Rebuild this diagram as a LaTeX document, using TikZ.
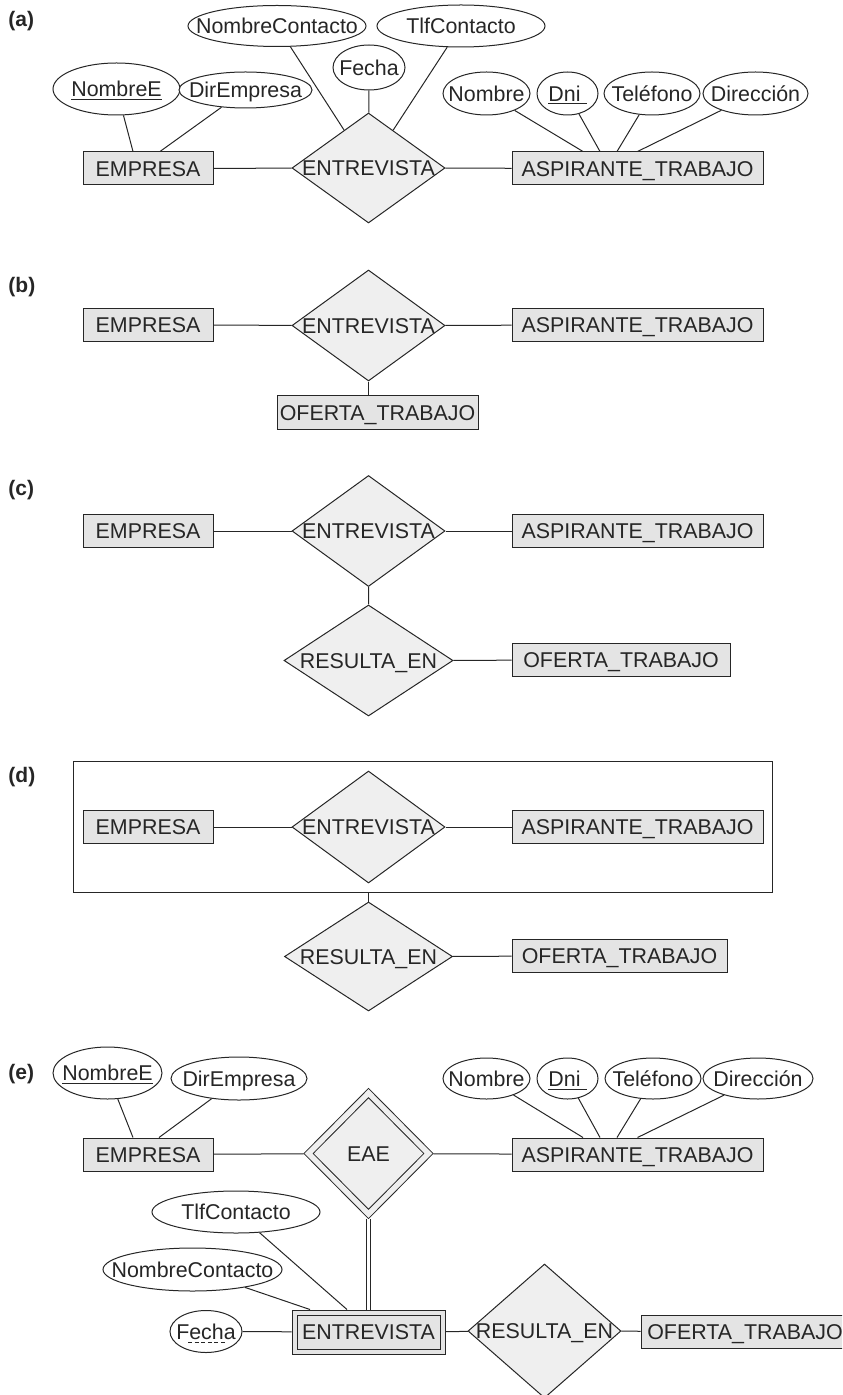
\documentclass[tikz,border=0pt]{standalone}
\usepackage[dvipsnames,svgnames]{xcolor}
\usepackage{tikz}
\usetikzlibrary{shapes.geometric, fit, calc}
\usepackage{fontspec}
\setmainfont{Liberation Sans}
\definecolor{entgray}{HTML}{E4E4E4}
\definecolor{relgray}{HTML}{EFEFEF}

\begin{document}
\begin{tikzpicture}[
  x=0.5pt, y=-0.5pt,
  color=black!85, line width=0.5pt,
  font=\fontsize{10.7}{12}\selectfont,
  every node/.style={text height=7.6pt, text depth=0pt, inner sep=0pt},
  partlabel/.style={anchor=west, font=\bfseries\fontsize{10.5}{12}\selectfont},
  entity/.style={rectangle, draw, fill=entgray, minimum width=#1, minimum height=16.5pt},
  weakentity/.style={rectangle, draw, fill=entgray, double=entgray, double distance=2pt, outer sep=1.5pt, minimum width=74pt, minimum height=19.5pt},
  relation/.style 2 args={diamond, draw, fill=relgray, minimum width=#1, minimum height=#2},
  weakrelation/.style={diamond, draw, fill=relgray, double=relgray, double distance=2.7pt, outer sep=1.85pt, minimum width=61.5pt, minimum height=62pt},
  attrib/.style 2 args={ellipse, draw, fill=white, minimum width=#1, minimum height=#2},
  aggbox/.style={rectangle, draw, inner sep=4.5pt},
  partialkey/.style={dash pattern=on 2pt off 1.3pt, line width=0.5pt}
]
\useasboundingbox (0,0) rectangle (842,1395);
\clip (0,0) rectangle (842,1395);

\node[partlabel] (lblA) at (8,19) {(a)};
\node[attrib={63.5pt}{26pt}] (nomeA) at (116.5,89) {\makebox[0pt]{\underline{NombreE}}};
\node[attrib={66.5pt}{18pt}] (direA) at (245.5,90) {\makebox[0pt]{DirEmpresa}};
\node[entity=65pt] (empA) at (148,168.5) {EMPRESA};
\node[relation={76.5pt}{55pt}] (entA) at (368.5,168) {\makebox[0pt]{ENTREVISTA}};
\node[entity=125.5pt] (aspA) at (637.5,168.5) {ASPIRANTE\_TRABAJO};
\node[attrib={89pt}{20.5pt}] (ncA) at (277,26) {\makebox[0pt]{NombreContacto}};
\node[attrib={84pt}{21pt}] (tlfA) at (461,26) {\makebox[0pt]{TlfContacto}};
\node[attrib={36pt}{22.5pt}] (fechaA) at (369,67.5) {\makebox[0pt]{Fecha}};
\node[attrib={43.5pt}{21.5pt}] (nomA) at (486.5,93.5) {\makebox[0pt]{Nombre}};
\node[attrib={30.5pt}{21.5pt}] (dniA) at (567.5,93.5) {\makebox[0pt]{\underline{Dni\ }}};
\node[attrib={48pt}{21.5pt}] (telA) at (652,93.5) {\makebox[0pt]{Teléfono}};
\node[attrib={52.5pt}{21.5pt}] (dirA) at (755.5,93.5) {\makebox[0pt]{Dirección}};
\draw (empA) -- (entA) -- (aspA);
\draw (nomeA) -- ($(empA.north)+(-15,0)$);
\draw (direA) -- ($(empA.north)+(12,0)$);
\draw (ncA) -- (entA);
\draw (tlfA) -- (entA);
\draw (fechaA) -- (entA);
\draw (nomA) -- ($(aspA.north)+(-54.5,0)$);
\draw (dniA) -- ($(aspA.north)+(-37.5,0)$);
\draw (telA) -- ($(aspA.north)+(-20.5,0)$);
\draw (dirA) -- (aspA.north);

\node[partlabel] (lblB) at (8,285) {(b)};
\node[entity=65pt] (empB) at (148,325) {EMPRESA};
\node[relation={76.5pt}{55.5pt}] (entB) at (368.5,325.5) {\makebox[0pt]{ENTREVISTA}};
\node[entity=125.5pt] (aspB) at (637.5,325) {ASPIRANTE\_TRABAJO};
\node[entity=100.5pt] (ofB) at (377.5,412.5) {OFERTA\_TRABAJO};
\draw (empB) -- (entB) -- (aspB);
\draw (entB) -- (entB |- ofB.north);

\node[partlabel] (lblC) at (8,488) {(c)};
\node[entity=65pt] (empC) at (148,531) {EMPRESA};
\node[relation={76.5pt}{55.5pt}] (entC) at (368.5,531) {\makebox[0pt]{ENTREVISTA}};
\node[entity=125.5pt] (aspC) at (637.5,531) {ASPIRANTE\_TRABAJO};
\node[relation={84.5pt}{55.5pt}] (resC) at (368.5,660.5) {\makebox[0pt]{RESULTA\_EN}};
\node[entity=109pt] (ofC) at (621,660) {OFERTA\_TRABAJO};
\draw (empC) -- (entC) -- (aspC);
\draw (entC) -- (resC) -- (ofC);

\node[partlabel] (lblD) at (8,775) {(d)};
\node[entity=65pt] (empD) at (148,827) {EMPRESA};
\node[relation={76.5pt}{56pt}] (entD) at (368.5,827) {\makebox[0pt]{ENTREVISTA}};
\node[entity=125.5pt] (aspD) at (637.5,827) {ASPIRANTE\_TRABAJO};
\node[aggbox, fit=(empD)(entD)(aspD)] (aggD) {};
\node[relation={84pt}{54.5pt}] (resD) at (368.5,956.5) {\makebox[0pt]{RESULTA\_EN}};
\node[entity=107.5pt] (ofD) at (619.5,956) {OFERTA\_TRABAJO};
\draw (empD) -- (entD) -- (aspD);
\draw (resD) -- (resD |- aggD.south);
\draw (resD) -- (ofD);

\node[partlabel] (lblE) at (8,1072) {(e)};
\node[attrib={54.5pt}{26pt}] (nomeE) at (107.5,1073) {\makebox[0pt]{\underline{NombreE}}};
\node[attrib={68pt}{21.5pt}] (direE) at (239,1078.5) {\makebox[0pt]{DirEmpresa}};
\node[entity=65pt] (empE) at (148,1154.5) {EMPRESA};
\node[weakrelation] (eaeE) at (368.5,1153.5) {\makebox[0pt]{EAE}};
\node[entity=125.5pt] (aspE) at (637.5,1154.5) {ASPIRANTE\_TRABAJO};
\node[attrib={43.5pt}{20.5pt}] (nomE) at (486.5,1078.5) {\makebox[0pt]{Nombre}};
\node[attrib={30.5pt}{20.5pt}] (dniE) at (567.5,1078.5) {\makebox[0pt]{\underline{Dni\ }}};
\node[attrib={48pt}{20.5pt}] (telE) at (653,1078.5) {\makebox[0pt]{Teléfono}};
\node[attrib={55pt}{20.5pt}] (dirE) at (758,1078.5) {\makebox[0pt]{Dirección}};
\node[attrib={84pt}{21pt}] (tlfE) at (236,1212) {\makebox[0pt]{TlfContacto}};
\node[attrib={89.5pt}{21.5pt}] (ncE) at (192.5,1269.5) {\makebox[0pt]{NombreContacto}};
\node[attrib={36pt}{21pt}] (fechaE) at (206,1331.5) {\makebox[0pt]{Fecha}};
\draw[partialkey] ($(fechaE)+(-18,11)$) -- ($(fechaE)+(20,11)$);
\node[weakentity] (wentE) at (368.5,1332) {ENTREVISTA};
\node[relation={76.5pt}{67pt}] (resE) at (544.5,1331) {\makebox[0pt]{RESULTA\_EN}};
\node[entity=104pt] (ofE) at (745,1331.5) {OFERTA\_TRABAJO};
\draw (nomeE) -- ($(empE.north)+(-15,0)$);
\draw (direE) -- ($(empE.north)+(11,0)$);
\draw (empE) -- (eaeE) -- (aspE);
\draw (nomE) -- ($(aspE.north)+(-54.5,0)$);
\draw (dniE) -- ($(aspE.north)+(-37.5,0)$);
\draw (telE) -- ($(aspE.north)+(-20.5,0)$);
\draw (dirE) -- (aspE.north);
\draw[double, double distance=1.5pt] (eaeE) -- (wentE);
\draw (tlfE) -- ($(wentE.north)+(-21.5,0)$);
\draw (ncE) -- ($(wentE.north)+(-58.5,0)$);
\draw (fechaE) -- (wentE) -- (resE) -- (ofE);
\end{tikzpicture}
\end{document}
